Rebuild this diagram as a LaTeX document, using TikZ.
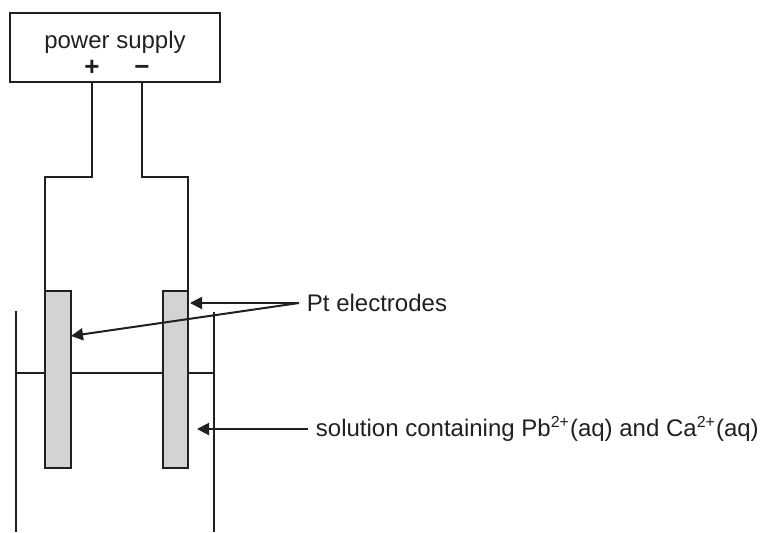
\documentclass[tikz,border=0pt]{standalone}
\usepackage{fontspec}
\setmainfont{Liberation Sans}
\usetikzlibrary{arrows.meta}
\definecolor{ink}{HTML}{231F20}
\definecolor{platinum}{HTML}{D1D3D4}

\begin{document}
\begin{tikzpicture}[x=.5pt,y=-.5pt,line width=1.3pt,color=ink,
    font=\fontsize{12}{14}\selectfont]

      \useasboundingbox (0,0) rectangle (767,532);

      % beaker and solution surface
      \draw (16,311) -- (16,532);
      \draw (214,312) -- (214,532);
      \draw (16,373) -- (214,373);

      \begin{scope}[every node/.style={rectangle,draw,inner sep=0pt,outer sep=0pt}]
        \node (ps) at (115,47.5) [minimum width=105pt,minimum height=34.5pt] {};
        \node (eL) at (58,379.5) [fill=platinum,minimum width=13pt,minimum height=88.5pt] {};
        \node (eR) at (175.5,379.5) [fill=platinum,minimum width=12.5pt,minimum height=88.5pt] {};
      \end{scope}

      \node[anchor=base] (title) at (115,48) {power supply};
      \begin{scope}[every node/.style={anchor=base,font=\fontsize{13}{14}\selectfont\bfseries}]
        \node (plus) at (92,75) {+};
        \node (minus) at (142,75) {−};
      \end{scope}

      \coordinate (kinkL) at (45,177);
      \coordinate (kinkR) at (188,177);
      \draw (ps.south -| plus) |- (kinkL) -- (eL.north west);
      \draw (ps.south -| minus) |- (kinkR) -- (eR.north east);

      \node[anchor=west] (pt) at (299,303) {Pt electrodes};
      \node[anchor=west] (sol) at (308,429) {solution containing Pb\textsuperscript{2+}(aq) and Ca\textsuperscript{2+}(aq)};
      \coordinate (tipS) at (197,429);

      \begin{scope}[every edge/.style={draw,line width=1pt,-{Triangle[length=6pt,width=6pt]}}]
        \path (pt.west) edge ([xshift=1pt]eR.east |- pt.west);
        \path (pt.west) edge ([yshift=-22.5pt]eL.north east);
        \path (sol.west) edge (tipS);
      \end{scope}

    \end{tikzpicture}
\end{document}
